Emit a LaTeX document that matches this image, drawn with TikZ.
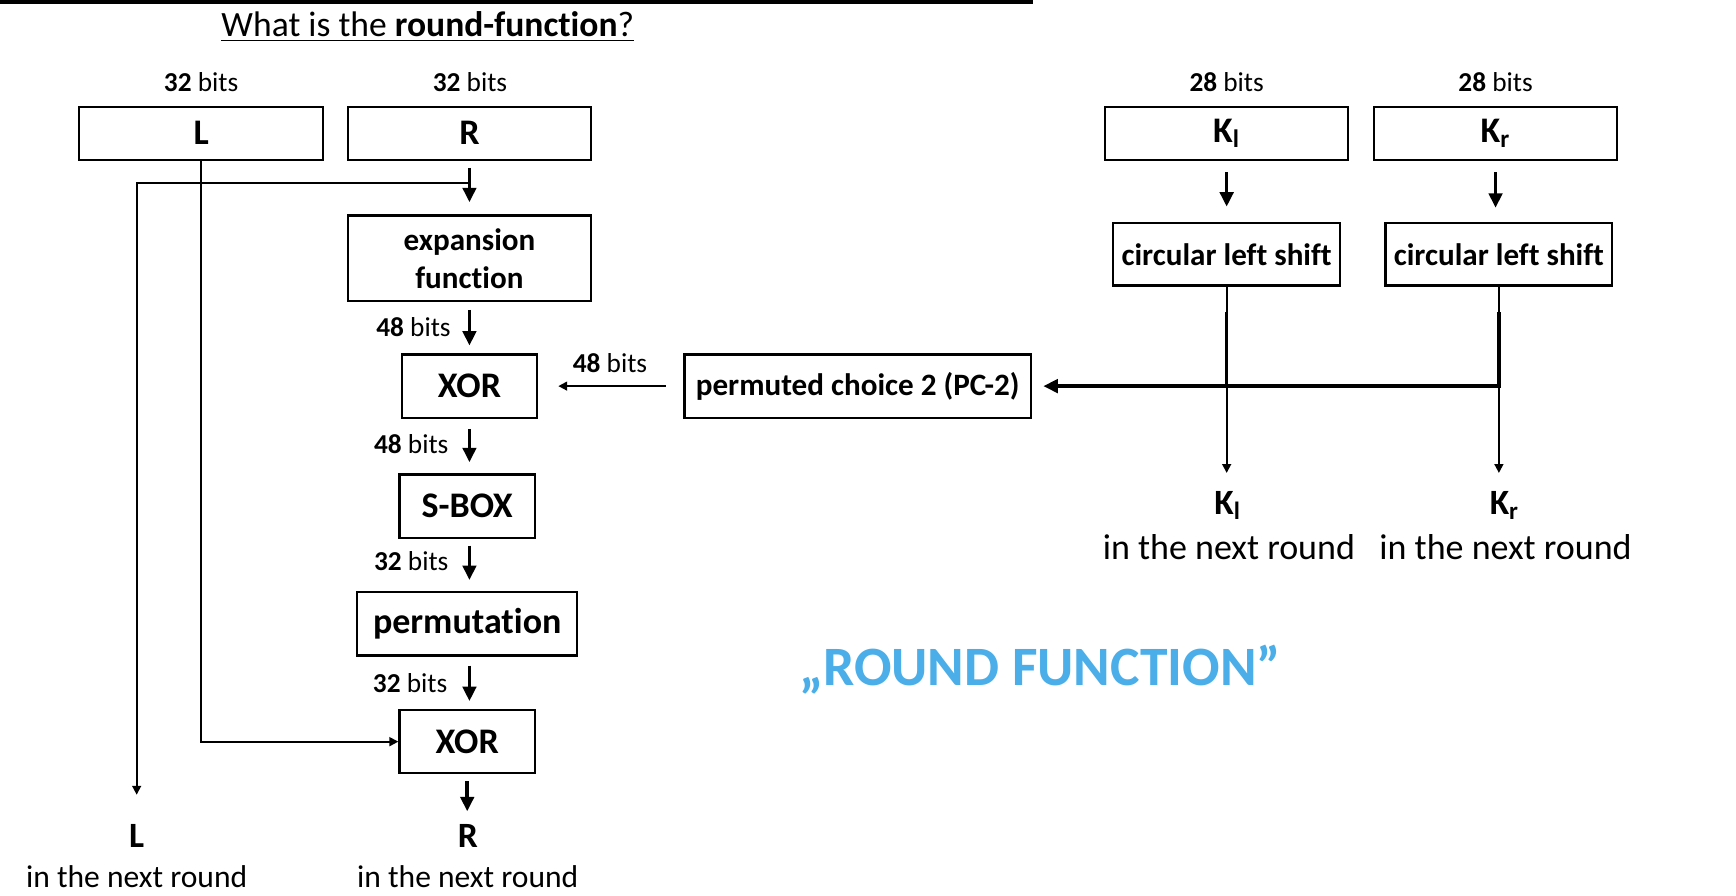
\documentclass[tikz,border=0pt]{standalone}
\usepackage{fontspec}
\setmainfont[Ligatures={NoCommon}]{Carlito}
\usetikzlibrary{arrows.meta,calc}
\definecolor{rfblue}{RGB}{75,174,232}
\tikzset{
  blk/.style={draw,line width=1pt,inner sep=0pt,align=center,
    font=\fontsize{14}{17}\selectfont\bfseries},
  blkbig/.style={blk,font=\fontsize{16.2}{19}\selectfont\bfseries},
  bitslbl/.style={inner sep=0pt,font=\fontsize{12.3}{14}\selectfont},
  nextlbl/.style={inner sep=0pt,font=\fontsize{14.2}{17}\selectfont},
  nextlblbig/.style={inner sep=0pt,font=\fontsize{16.2}{19}\selectfont},
  outlbl/.style={inner sep=0pt,font=\fontsize{16}{19}\selectfont\bfseries},
  fatarrow/.style={line width=1.6pt,-{Triangle[length=6.5pt,width=6pt]}},
  thinarrow/.style={line width=0.8pt,-{Triangle[length=4pt,width=4pt]}},
  thinline/.style={line width=0.8pt},
  fatline/.style={line width=1.5pt}
}
\begin{document}
\begin{tikzpicture}[x=0.5pt,y=-0.5pt]
\useasboundingbox (0,0) rectangle (1562.4,806.4);
% top cut-off line
\fill (0,0) rectangle (930,3.5);
% title
\node[inner sep=0pt,font=\fontsize{16}{19}\selectfont] (title) at (385,24)
  {\underline{What is the \textbf{round-function}?}};
% left part
\node[bitslbl] (bL) at (181,74) {\textbf{32} bits};
\node[bitslbl] (bR) at (423,74) {\textbf{32} bits};
\node[blkbig,minimum width=110pt,minimum height=24pt] (L) at (181,120) {L};
\node[blkbig,minimum width=109.5pt,minimum height=24pt] (R) at (422.5,120) {R};
\node[blk,minimum width=109.5pt,minimum height=38.5pt] (exp) at (422.5,232.5) {expansion\\function};
\node[blkbig,minimum width=61pt,minimum height=28.5pt] (xor1) at (422.5,347.5) {XOR};
\node[blkbig,minimum width=61pt,minimum height=28.5pt] (sbox) at (420.5,455.5) {S-BOX};
\node[blkbig,minimum width=99pt,minimum height=28.5pt] (perm) at (420.5,561.5) {permutation};
\node[blkbig,minimum width=61pt,minimum height=28.5pt] (xor2) at (420.5,667.5) {XOR};
\node[blk,minimum width=156pt,minimum height=28.5pt] (pc2) at (772,347.5) {permuted choice 2 (PC-2)};
\node[outlbl] (Ln) at (123,752) {L};
\node[nextlbl] (Lnt) at (123,789) {in the next round};
\node[outlbl] (Rn) at (421,752) {R};
\node[nextlbl] (Rnt) at (421,789) {in the next round};
% bits labels along the middle column
\node[bitslbl,anchor=east] (b1) at (406,294) {\textbf{48} bits};
\node[bitslbl,anchor=east] (b2) at (404,400) {\textbf{48} bits};
\node[bitslbl,anchor=east] (b3) at (404,505) {\textbf{32} bits};
\node[bitslbl,anchor=east] (b4) at (403,615) {\textbf{32} bits};
\node[bitslbl] (b5) at (549,327) {\textbf{48} bits};
% middle column arrows
\draw[fatarrow,shorten <=3pt,shorten >=5.5pt] (R.south) -- (exp.north);
\draw[fatarrow,shorten <=3.5pt,shorten >=3.5pt] (exp.south) -- (exp.south |- xor1.north);
\draw[fatarrow,shorten <=4.5pt,shorten >=5pt] (xor1.south) -- (xor1.south |- sbox.north);
\draw[fatarrow,shorten <=3pt,shorten >=5pt] (exp.south |- sbox.south) -- (exp.south |- perm.north);
\draw[fatarrow,shorten <=4pt,shorten >=3.5pt] (exp.south |- perm.south) -- (exp.south |- xor2.north);
\draw[fatarrow,shorten <=3pt,shorten >=5.5pt] (xor2.south) -- (xor2.south |- Rn.north);
% R copied down to L of next round
\coordinate (rj) at ($(R.south)+(0,20)$);
\draw[thinarrow] (rj) -| ($(Ln.north)+(0,-26)$);
% L down to second XOR
\draw[thinarrow] (L.south) |- (xor2.west);
% PC-2 to XOR
\draw[thinarrow,shorten <=8pt,shorten >=9pt] (pc2.west) -- (xor1.east);
% right part
\node[bitslbl] (bKl) at (1104,74) {\textbf{28} bits};
\node[bitslbl] (bKr) at (1346,74) {\textbf{28} bits};
\node[blkbig,minimum width=109.5pt,minimum height=24pt] (Kl) at (1104,120) {K\textsubscript{l}};
\node[blkbig,minimum width=109.5pt,minimum height=24pt] (Kr) at (1346,120) {K\textsubscript{r}};
\node[blk,minimum width=102pt,minimum height=28pt] (cls1) at (1104,229) {circular left shift};
\node[blk,minimum width=102pt,minimum height=28pt] (cls2) at (1349,229) {circular left shift};
\node[outlbl] (Kln) at (1105,455) {K\textsubscript{l}};
\node[nextlblbig] (Klnt) at (1106,492) {in the next round};
\node[outlbl] (Krn) at (1354,455) {K\textsubscript{r}};
\node[nextlblbig] (Krnt) at (1355,492) {in the next round};
\draw[fatarrow,shorten <=5pt,shorten >=7pt] (Kl.south) -- (Kl.south |- cls1.north);
\draw[fatarrow,shorten <=5pt,shorten >=6.5pt] (Kr.south) -- (Kr.south |- cls2.north);
\draw[thinarrow] (cls1.south) -- ($(cls1.south |- Kln.north)+(0,-16)$);
\draw[thinarrow] (cls2.south) -- ($(cls2.south |- Krn.north)+(0,-16)$);
\draw[fatline] ($(cls1.south)+(0,23)$) -- (cls1.south |- pc2.east);
\draw[fatarrow,shorten >=5pt] ($(cls2.south)+(0,23)$) |- (pc2.east);
% caption
\node[inner sep=0pt,text=rfblue,font=\fontsize{25}{30}\selectfont\bfseries] (cap) at (936,603)
  {„ROUND FUNCTION”};
\end{tikzpicture}
\end{document}
